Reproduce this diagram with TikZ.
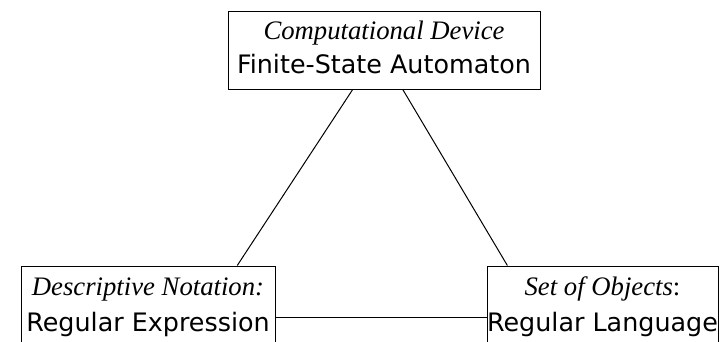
\documentclass[tikz,border=0pt]{standalone}
\usepackage{fontspec}
\setmainfont{Liberation Serif}
\newfontfamily\handfont{DejaVu Sans}
\usetikzlibrary{calc}

\tikzset{
  conceptbox/.style={draw=black, line width=1pt, rectangle, inner sep=0pt},
  kindlabel/.style={anchor=base, inner sep=0pt, font=\fontsize{26.7}{30}\selectfont\itshape},
  namelabel/.style={anchor=base, inner sep=0pt, font=\fontsize{25.4}{30}\handfont},
  link/.style={line width=1pt}
}

\begin{document}
\begin{tikzpicture}[x=1pt, y=1pt]
  \clip (0,0) rectangle (721,341);
  \fill[white] (0,0) rectangle (721,341);

  % the three boxes (the lower two run past the bottom edge)
  \node[conceptbox, minimum width=312pt, minimum height=77pt] (fsa) at (384,290.5) {};
  \node[conceptbox, minimum width=254pt, minimum height=85pt] (rex) at (148,32.5) {};
  \node[conceptbox, minimum width=231pt, minimum height=85pt] (lang) at (602.5,32.5) {};

  % texts
  \node[kindlabel] (fsak) at ($(fsa.north)+(0,-28)$) {Computational Device};
  \node[namelabel] (fsan) at ($(fsa.north)+(0,-62)$) {Finite-State Automaton};
  \node[kindlabel] (rexk) at ($(rex.north)+(0,-30)$) {Descriptive Notation:};
  \node[namelabel] (rexn) at ($(rex.north)+(0,-66)$) {Regular Expression};
  \node[kindlabel] (langk) at ($(lang.north)+(0,-30)$) {Set of Objects\textup{:}};
  \node[namelabel] (langn) at ($(lang.north)+(0,-66)$) {Regular Language};

  % connectors
  \draw[link] ($(fsa.south west)!0.40!(fsa.south east)$) -- ($(rex.north west)!0.85!(rex.north east)$);
  \draw[link] ($(fsa.south west)!0.56!(fsa.south east)$) -- ($(lang.north west)!0.09!(lang.north east)$);
  \draw[link] ($(rex.north east)+(0,-52)$) -- ($(lang.north west)+(0,-52)$);
\end{tikzpicture}
\end{document}
